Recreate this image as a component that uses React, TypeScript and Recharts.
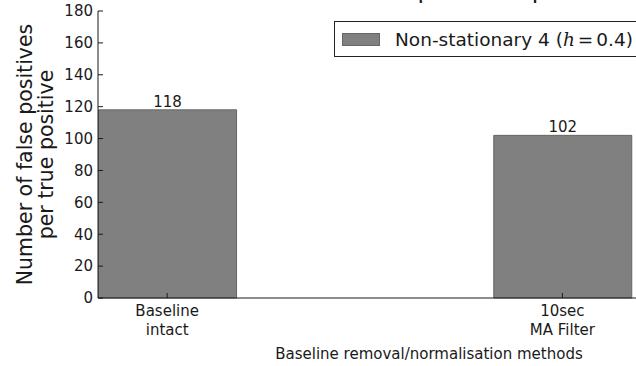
import { Bar, BarChart, LabelList, XAxis, YAxis } from "recharts";

// ── Data ──────────────────────────────────────────────────────────────────────
const categories = ["Baseline\nintact", "10sec\nMA Filter"];
const positions = [0, 1];
const falsePositives = [118, 102];
const yTicks = [0, 20, 40, 60, 80, 100, 120, 140, 160, 180];

const data = positions.map((pos, i) => ({
  pos,
  name: categories[i],
  value: falsePositives[i],
}));

// ── Theme ─────────────────────────────────────────────────────────────────────
const FONT = "'DejaVu Sans', sans-serif";
const INK = "#1a1a1a";
const BAR_FILL = "#808080";

function CategoryTick({ x, y, payload }: any) {
  const idx = positions.indexOf(payload.value);
  const lines = (categories[idx] ?? "").split("\n");
  return (
    <text x={x} y={y} textAnchor="middle" fill={INK} fontSize={15} fontFamily={FONT}>
      {lines.map((l, i) => (
        <tspan key={i} x={x} dy={i === 0 ? 18 : 19}>
          {l}
        </tspan>
      ))}
    </text>
  );
}

function YLabel({ viewBox }: any) {
  const cy = viewBox.y + viewBox.height / 2;
  return (
    <text
      transform={`rotate(-90, 32, ${cy})`}
      x={32}
      y={cy}
      textAnchor="middle"
      fill={INK}
      fontSize={20.5}
      fontFamily={FONT}
    >
      <tspan x={32} dy={0}>Number of false positives</tspan>
      <tspan x={32} dy={21}>per true positive</tspan>
    </text>
  );
}

function LegendBox() {
  return (
    <div
      style={{
        position: "absolute",
        left: 334,
        top: 21,
        border: "1px solid #222",
        width: 320,
        height: 36,
        background: "#fff",
        display: "flex",
        alignItems: "center",
        fontFamily: FONT,
        fontSize: 18.5,
        color: INK,
        boxSizing: "border-box",
        zIndex: 2,
      }}
    >
      <span
        style={{
          display: "inline-block",
          width: 38,
          height: 13,
          background: BAR_FILL,
          border: "1px solid #666",
          marginLeft: 7,
          marginRight: 15,
          boxSizing: "border-box",
        }}
      />
      <span style={{ whiteSpace: "nowrap" }}>
        Non-stationary 4 (
        <i style={{ fontFamily: "'DejaVu Serif', serif" }}>h</i>
        <span style={{ margin: "0 3px" }}>=</span>0.4)
      </span>
    </div>
  );
}

export default function App() {
  return (
    <div
      style={{
        position: "absolute",
        left: 0,
        top: 0,
        width: 636,
        height: 366,
        overflow: "hidden",
        background: "#fff",
      }}
    >
      <svg width={636} height={10} style={{ position: "absolute", left: 0, top: 0, overflow: "visible", zIndex: 2 }}>
        <text x={218} y={-2} fontSize={24} fontFamily={FONT} fill={INK}>
          Number of false positives per true positive
        </text>
      </svg>
      <LegendBox />
      <BarChart
        width={760}
        height={366}
        data={data}
        margin={{ top: 11, right: 0, bottom: 0, left: 0 }}
      >
        <XAxis
          type="number"
          dataKey="pos"
          domain={[-0.175, 1.5]}
          ticks={positions}
          allowDataOverflow
          height={68}
          stroke={INK}
          tickSize={-5}
          tickMargin={5}
          tick={<CategoryTick />}
          label={{
            value: "Baseline removal/normalisation methods",
            position: "insideBottom",
            offset: 7,
            fill: INK,
            fontSize: 15,
            fontFamily: FONT,
          }}
        />
        <XAxis
          xAxisId="top"
          orientation="top"
          type="number"
          dataKey="pos"
          domain={[-0.175, 1.5]}
          ticks={positions}
          allowDataOverflow
          height={0}
          stroke={INK}
          tickSize={-5}
          tick={false}
        />
        <YAxis
          type="number"
          domain={[0, 180]}
          ticks={yTicks}
          width={98}
          stroke={INK}
          tickSize={-5}
          tickMargin={10}
          tick={{ fill: INK, fontSize: 15, fontFamily: FONT }}
          label={<YLabel />}
        />
        <Bar
          dataKey="value"
          barSize={138}
          fill={BAR_FILL}
          stroke="#666"
          strokeWidth={1}
          isAnimationActive={false}
        >
          <LabelList
            dataKey="value"
            position="top"
            offset={3}
            fill={INK}
            fontSize={15}
            fontFamily={FONT}
          />
        </Bar>
      </BarChart>
    </div>
  );
}
